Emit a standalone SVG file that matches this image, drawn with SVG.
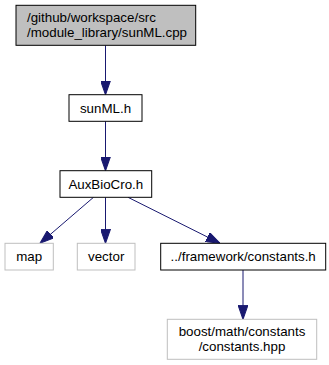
<svg xmlns="http://www.w3.org/2000/svg" width="329" height="365" viewBox="0 0 329 365">
  <style>
    .box { fill: #ffffff; stroke: #000000; stroke-width: 1; }
    .ext { fill: #ffffff; stroke: #bfbfbf; stroke-width: 1; }
    .cur { fill: #bfbfbf; stroke: #000000; stroke-width: 1; }
    .lbl { font-family: "Liberation Sans", Arial, Helvetica, sans-serif; font-size: 13.33px; fill: #000000; }
    .mid { text-anchor: middle; }
    .edge { fill: none; stroke: #191970; stroke-width: 1; marker-end: url(#arrow); }
  </style>
  <defs>
    <marker id="arrow" markerUnits="userSpaceOnUse" markerWidth="14" markerHeight="10" viewBox="0 -4.67 13.33 9.34" refX="13.33" refY="0" orient="auto">
      <path d="M0,-4.67 L13.33,0 L0,4.67 Z" fill="#191970" stroke="#191970" stroke-width="1"/>
    </marker>
  </defs>
  <rect width="329" height="365" fill="#ffffff"/>

  <!-- connectors -->
  <g id="edges">
    <path class="edge" d="M105.5,45.3 L105.5,94.7"/>
    <path class="edge" d="M105.5,121.3 L105.5,170.7"/>
    <path class="edge" d="M93.5,197.3 L40,243.3"/>
    <path class="edge" d="M105.5,197.3 L105.5,243.3"/>
    <path class="edge" d="M128,197.3 L220,243.3"/>
    <path class="edge" d="M243,270 L243,319.3"/>
  </g>

  <!-- nodes -->
  <g id="node1">
    <rect class="cur" x="16" y="5.3" width="179.7" height="40"/>
    <text class="lbl" x="27" y="22">/github/workspace/src</text>
    <text class="lbl" x="27" y="36.6">/module_library/sunML.cpp</text>
  </g>
  <g id="node2">
    <rect class="box" x="69" y="94.7" width="73" height="26.6"/>
    <text class="lbl mid" x="105.5" y="112.8">sunML.h</text>
  </g>
  <g id="node3">
    <rect class="box" x="60" y="170.7" width="91.7" height="26.6"/>
    <text class="lbl mid" x="105.8" y="188.8">AuxBioCro.h</text>
  </g>
  <g id="node4">
    <rect class="ext" x="5" y="243.3" width="48.3" height="26.7"/>
    <text class="lbl mid" x="29.2" y="261.4">map</text>
  </g>
  <g id="node5">
    <rect class="ext" x="77.3" y="243.3" width="57.7" height="26.7"/>
    <text class="lbl mid" x="106.2" y="261.4">vector</text>
  </g>
  <g id="node6">
    <rect class="box" x="160.7" y="243.3" width="165" height="26.7"/>
    <text class="lbl mid" x="243.2" y="261.4">../framework/constants.h</text>
  </g>
  <g id="node7">
    <rect class="ext" x="167.3" y="319.3" width="149.4" height="40"/>
    <text class="lbl mid" x="242" y="336.4">boost/math/constants</text>
    <text class="lbl mid" x="242" y="350.8">/constants.hpp</text>
  </g>
</svg>
